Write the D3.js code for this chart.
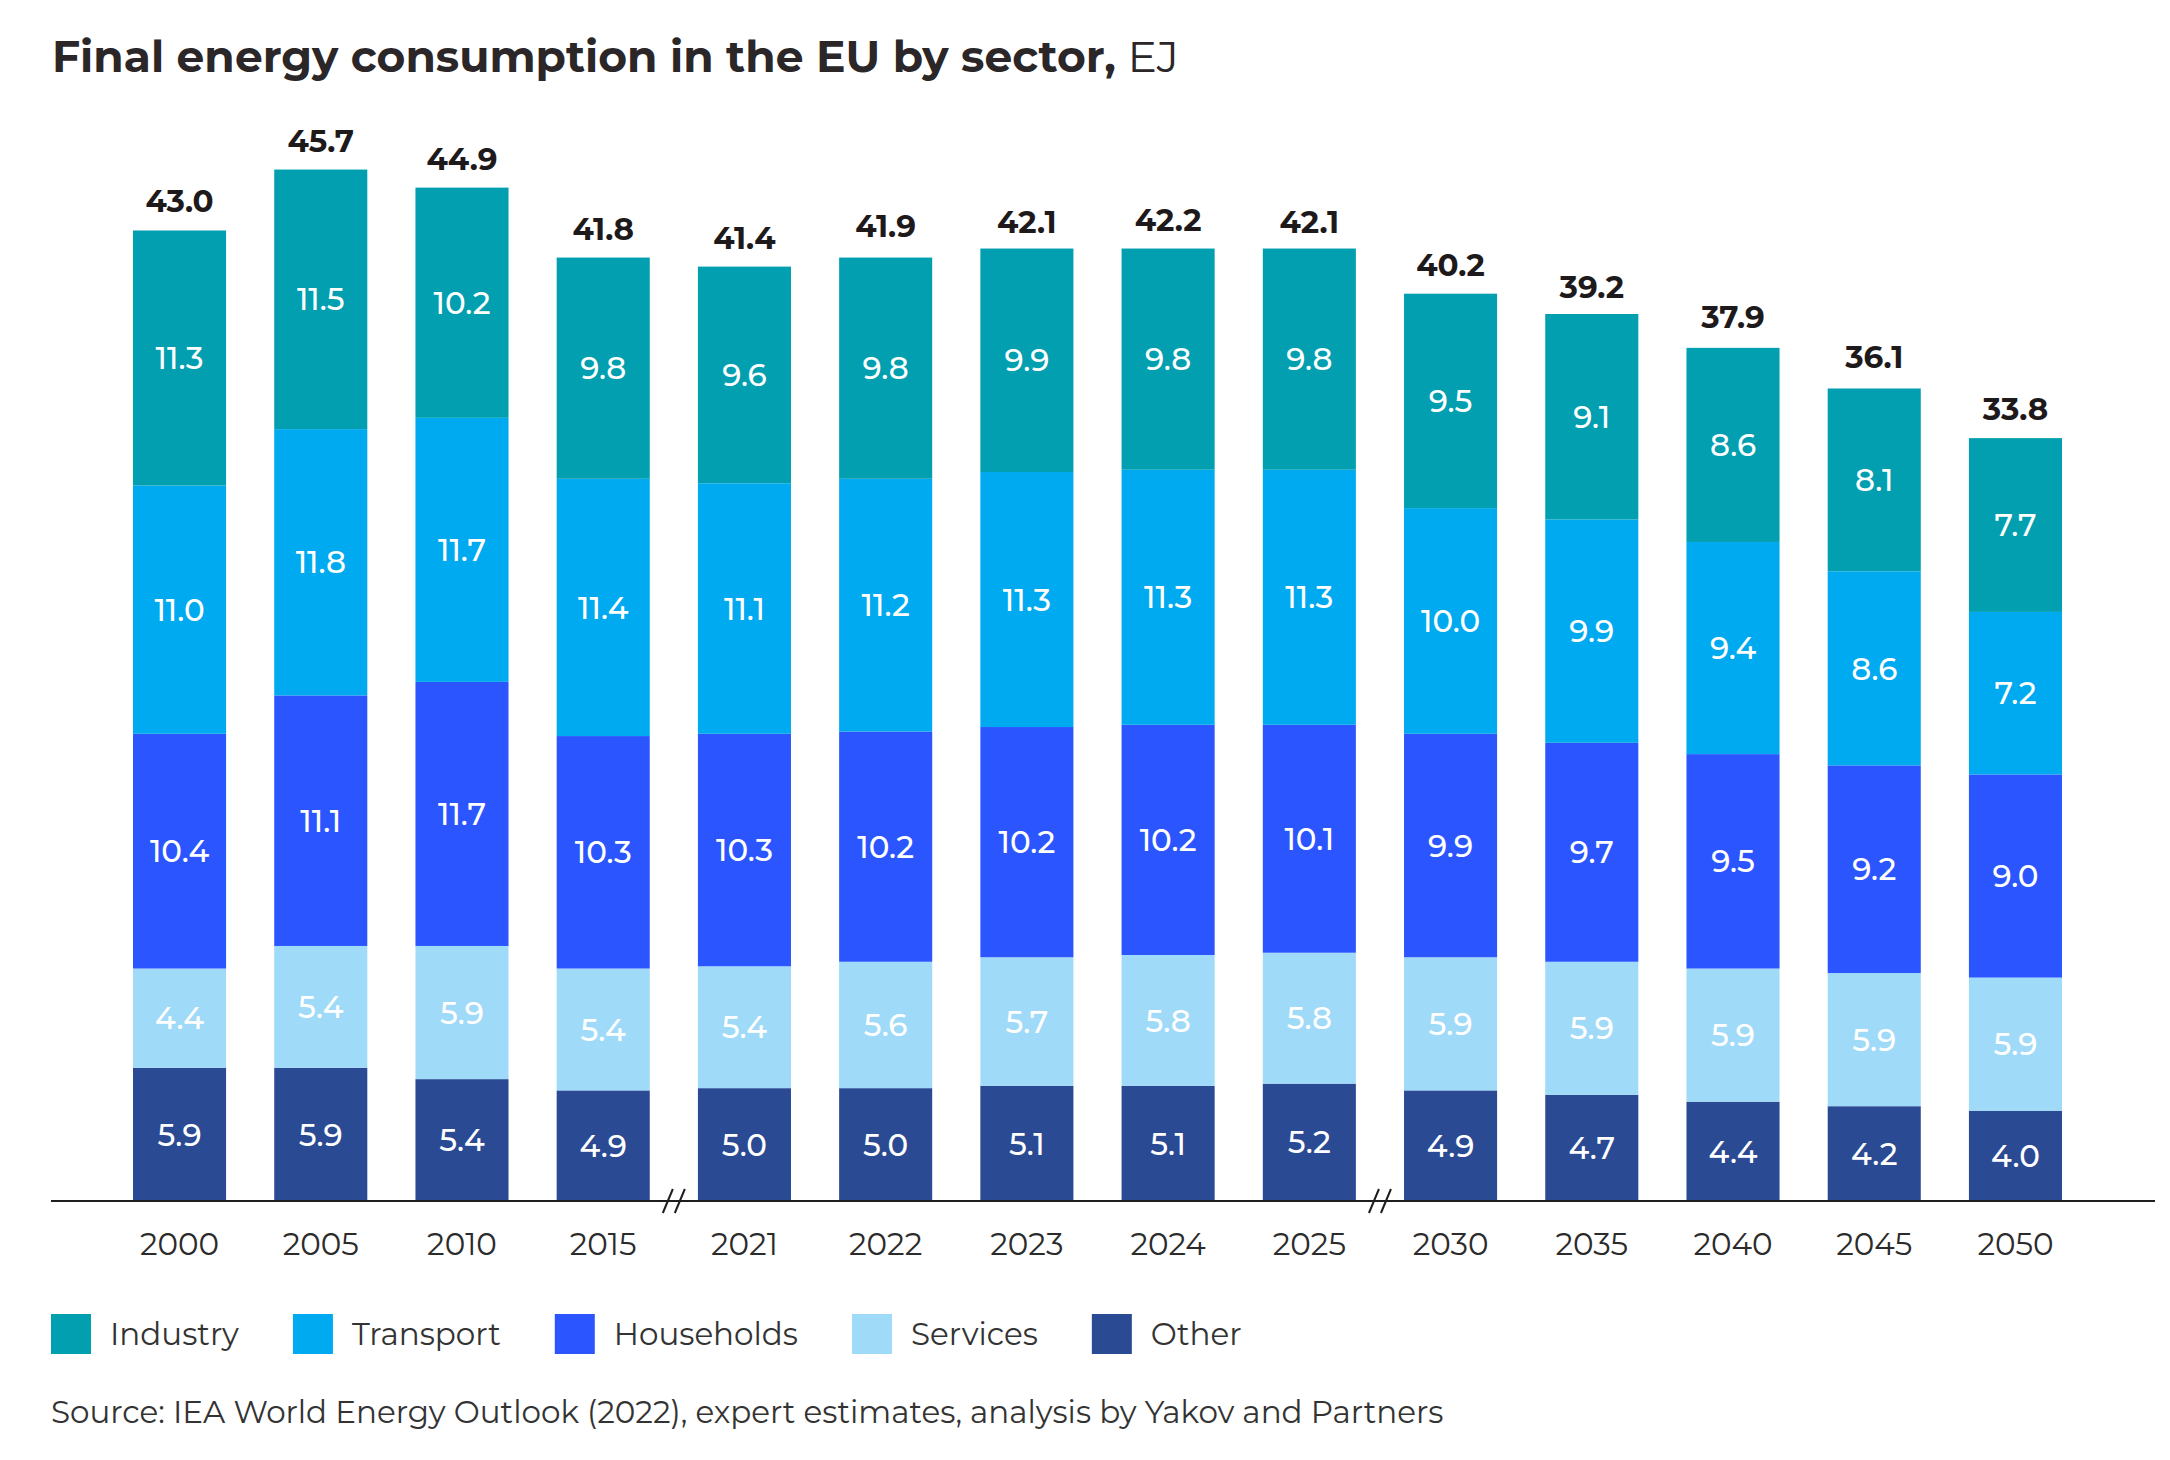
<!DOCTYPE html>
<html>
<head>
<meta charset="utf-8">
<script src="https://cdn.jsdelivr.net/npm/d3@7"></script>
<style>
  html, body { margin: 0; padding: 0; background: #fff; }
  svg text { font-family: Montserrat, "DejaVu Sans", sans-serif; }
</style>
</head>
<body>
<div id="chart"></div>
<script>
// years on the x axis
const years = ['2000', '2005', '2010', '2015', '2021', '2022', '2023', '2024', '2025', '2030', '2035', '2040', '2045', '2050'];

// EJ by sector, stacked from the bottom up
const other = [5.9, 5.9, 5.4, 4.9, 5.0, 5.0, 5.1, 5.1, 5.2, 4.9, 4.7, 4.4, 4.2, 4.0];
const services = [4.4, 5.4, 5.9, 5.4, 5.4, 5.6, 5.7, 5.8, 5.8, 5.9, 5.9, 5.9, 5.9, 5.9];
const households = [10.4, 11.1, 11.7, 10.3, 10.3, 10.2, 10.2, 10.2, 10.1, 9.9, 9.7, 9.5, 9.2, 9.0];
const transport = [11.0, 11.8, 11.7, 11.4, 11.1, 11.2, 11.3, 11.3, 11.3, 10.0, 9.9, 9.4, 8.6, 7.2];
const industry = [11.3, 11.5, 10.2, 9.8, 9.6, 9.8, 9.9, 9.8, 9.8, 9.5, 9.1, 8.6, 8.1, 7.7];
const totals = [43.0, 45.7, 44.9, 41.8, 41.4, 41.9, 42.1, 42.2, 42.1, 40.2, 39.2, 37.9, 36.1, 33.8];

// axis breaks come after these years
const breaksAfter = ['2015', '2025'];

const legendOrder = ['Industry', 'Transport', 'Households', 'Services', 'Other'];

const width = 2170, height = 1460;

const series = [
  { key: 'Other', values: other, color: '#2a4a93' },
  { key: 'Services', values: services, color: '#9fdaf8' },
  { key: 'Households', values: households, color: '#2b55ff' },
  { key: 'Transport', values: transport, color: '#00aaf0' },
  { key: 'Industry', values: industry, color: '#019fb0' },
];

const colorScale = d3.scaleOrdinal()
  .domain(series.map((s) => s.key))
  .range(series.map((s) => s.color));

// one row per year for d3.stack
const table = years.map((y, i) => {
  const row = { year: y };
  series.forEach((s) => { row[s.key] = s.values[i]; });
  return row;
});

const stacked = d3.stack().keys(series.map((s) => s.key))(table);

const svg = d3.select('#chart')
  .append('svg')
  .attr('width', width)
  .attr('height', height);

const x = d3.scaleBand()
  .domain(years)
  .range([109, 2086])
  .paddingInner(0.341)
  .paddingOuter(0.17);

const y = d3.scaleLinear()
  .domain([0, 50])
  .range([1201, 72.5]);

// title
const title = svg.append('text')
  .attr('x', 52)
  .attr('y', 72)
  .style('font-size', '44px')
  .style('fill', '#2b2628');
title.append('tspan').style('font-weight', 'bold').text('Final energy consumption in the EU by sector,');
title.append('tspan').style('font-weight', 'normal').text(' EJ');

// bars
const layers = svg.append('g')
  .selectAll('g')
  .data(stacked)
  .join('g')
  .attr('fill', (d) => colorScale(d.key));

layers.selectAll('rect')
  .data((d) => d)
  .join('rect')
  .attr('x', (d) => x(d.data.year))
  .attr('width', x.bandwidth())
  .attr('y', (d) => y(d[1]))
  .attr('height', (d) => y(d[0]) - y(d[1]));

// values inside segments
layers.selectAll('text')
  .data((d) => d.map((v) => ({ v, key: d.key })))
  .join('text')
  .attr('x', (d) => x(d.v.data.year) + x.bandwidth() / 2)
  .attr('y', (d) => (y(d.v[0]) + y(d.v[1])) / 2)
  .attr('dy', '0.36em')
  .attr('text-anchor', 'middle')
  .style('font-size', '31px')
  .style('font-weight', 500)
  .style('fill', '#fff')
  .text((d) => d.v.data[d.key].toFixed(1));

// totals above bars
svg.append('g')
  .selectAll('text')
  .data(years)
  .join('text')
  .attr('x', (d) => x(d) + x.bandwidth() / 2)
  .attr('y', (d, i) => y(totals[i]) - 18)
  .attr('text-anchor', 'middle')
  .style('font-size', '31px')
  .style('font-weight', 'bold')
  .style('fill', '#1e1a1c')
  .text((d, i) => totals[i].toFixed(1));

// x axis
const xAxis = svg.append('g')
  .attr('transform', `translate(0, ${y(0)})`)
  .call(d3.axisBottom(x).tickSize(0).tickPadding(32));
xAxis.select('.domain').remove();
xAxis.selectAll('text')
  .style('font-family', 'Montserrat, "DejaVu Sans", sans-serif')
  .style('font-size', '31px')
  .style('fill', '#2b2b2b');

svg.append('line')
  .attr('x1', 51)
  .attr('x2', 2155)
  .attr('y1', y(0))
  .attr('y2', y(0))
  .attr('stroke', '#1e1e1e')
  .attr('stroke-width', 2);

// break marks on the axis
const breakG = svg.append('g')
  .selectAll('g')
  .data(breaksAfter)
  .join('g')
  .attr('transform', (d) => {
    const next = years[years.indexOf(d) + 1];
    const cx = (x(d) + x.bandwidth() + x(next)) / 2;
    return `translate(${cx}, ${y(0)})`;
  });
[-6, 6].forEach((off) => {
  breakG.append('line')
    .attr('x1', off - 5)
    .attr('y1', 12)
    .attr('x2', off + 5)
    .attr('y2', -12)
    .attr('stroke', '#1e1e1e')
    .attr('stroke-width', 2);
});

// legend
const legend = svg.append('g').attr('transform', 'translate(51, 1314)');
let lx = 0;
legendOrder.forEach((k) => {
  const item = legend.append('g').attr('transform', `translate(${lx}, 0)`);
  item.append('rect')
    .attr('width', 40)
    .attr('height', 40)
    .attr('fill', colorScale(k));
  const t = item.append('text')
    .attr('x', 59)
    .attr('y', 31)
    .style('font-size', '31px')
    .style('fill', '#333')
    .text(k);
  lx += 59 + t.node().getComputedTextLength() + 54;
});

// source
svg.append('text')
  .attr('x', 51)
  .attr('y', 1423)
  .style('font-size', '31px')
  .style('fill', '#333')
  .text('Source: IEA World Energy Outlook (2022), expert estimates, analysis by Yakov and Partners');
</script>
</body>
</html>
